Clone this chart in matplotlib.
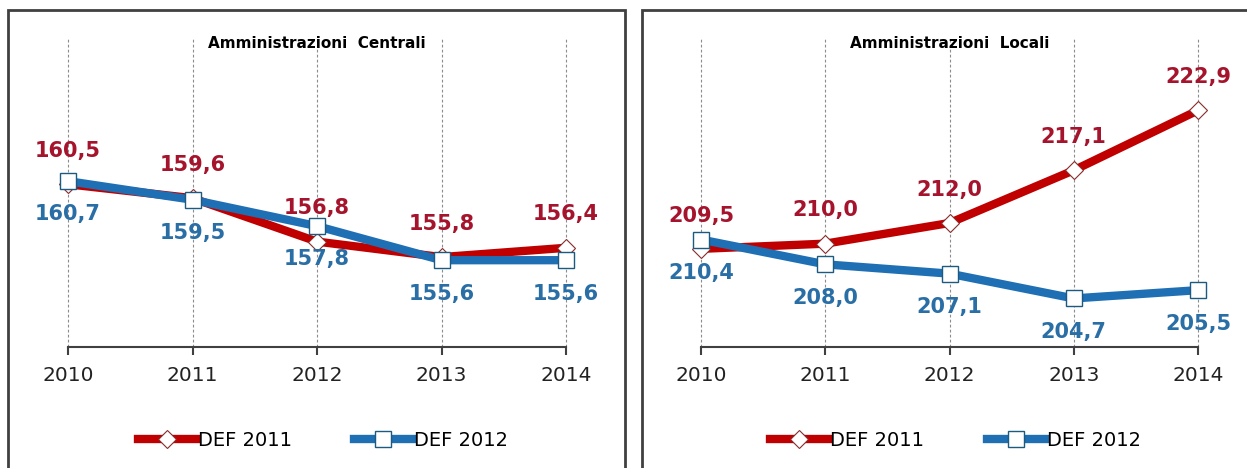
import matplotlib.pyplot as plt
from matplotlib.patches import Rectangle
from matplotlib.lines import Line2D

years = [2010, 2011, 2012, 2013, 2014]

# Amministrazioni Centrali
centrali_def2011 = [160.5, 159.6, 156.8, 155.8, 156.4]
centrali_def2012 = [160.7, 159.5, 157.8, 155.6, 155.6]

# Amministrazioni Locali
locali_def2011 = [209.5, 210.0, 212.0, 217.1, 222.9]
locali_def2012 = [210.4, 208.0, 207.1, 204.7, 205.5]

series_names = ["DEF 2011", "DEF 2012"]

red = "#C00000"
blue = "#1F6FB4"
red_lbl = "#A5142C"
blue_lbl = "#2A6EA6"
frame = "#404040"

W, H = 1247, 468
fig = plt.figure(figsize=(W / 100, H / 100), dpi=100)


def fx(px):
    return px / W


def fy(py):
    return 1 - py / H


def fmt(v):
    return f"{v:.1f}".replace(".", ",")


def panel(x0, x1, title, s2011, s2012, ylim):
    ax = fig.add_axes([fx(x0), fy(347), fx(x1 - x0), (347 - 37) / H])
    ax.set_xlim(years[0], years[-1])
    ax.set_ylim(*ylim)

    ax.plot(years, s2011, color=red, lw=6, marker="D", ms=9,
            mfc="white", mec="#8a2a2a", mew=0.8, clip_on=False, zorder=3)
    ax.plot(years, s2012, color=blue, lw=6, marker="s", ms=11,
            mfc="white", mec="#1d5a80", mew=1.0, clip_on=False, zorder=4)

    for x, v in zip(years, s2011):
        ax.annotate(fmt(v), (x, v), xytext=(0, 24), textcoords="offset points",
                    ha="center", va="center", color=red_lbl,
                    fontsize=15, fontweight="bold", zorder=5)
    for x, v in zip(years, s2012):
        ax.annotate(fmt(v), (x, v), xytext=(0, -24), textcoords="offset points",
                    ha="center", va="center", color=blue_lbl,
                    fontsize=15, fontweight="bold", zorder=5)

    ax.text(0.5, 0.978, title, transform=ax.transAxes, ha="center", va="center",
            fontsize=11, fontweight="bold", color="black")

    ax.set_xticks(years)
    ax.set_xticklabels([str(y) for y in years], fontsize=14.5, color="#222222")
    ax.set_yticks([])
    ax.tick_params(axis="x", direction="out", length=6, width=1.5,
                   color=frame, pad=8)
    ax.grid(axis="x", color="#8c8c8c", lw=0.8, linestyle=(0, (2.5, 2)))
    for gl in ax.get_xgridlines():
        gl.set_clip_on(False)
    for side in ["top", "left", "right"]:
        ax.spines[side].set_visible(False)
    ax.spines["bottom"].set_color(frame)
    ax.spines["bottom"].set_linewidth(1.5)

    handles = [
        Line2D([], [], color=red, lw=6, marker="D", ms=9, mfc="white",
               mec="#8a2a2a", mew=0.8),
        Line2D([], [], color=blue, lw=6, marker="s", ms=11, mfc="white",
               mec="#1d5a80", mew=1.0),
    ]
    fig.legend(handles, series_names, loc="center",
               bbox_to_anchor=(fx((x0 + x1) / 2 + 6), fy(440)), ncol=2,
               frameon=False, fontsize=14, handlelength=3.0,
               handletextpad=0.1, columnspacing=3.2, numpoints=1)
    return ax


panel(68, 566, "Amministrazioni  Centrali", centrali_def2011, centrali_def2012, (150, 170))
panel(701, 1198, "Amministrazioni  Locali", locali_def2011, locali_def2012, (200, 230))

# panel frames
fig.add_artist(Rectangle((fx(8), fy(480)), fx(625 - 8), (480 - 10) / H,
                         transform=fig.transFigure, fill=False, ec=frame, lw=2))
fig.add_artist(Rectangle((fx(642), fy(480)), fx(1300 - 642), (480 - 10) / H,
                         transform=fig.transFigure, fill=False, ec=frame, lw=2))

fig.savefig("out.png", dpi=100)
